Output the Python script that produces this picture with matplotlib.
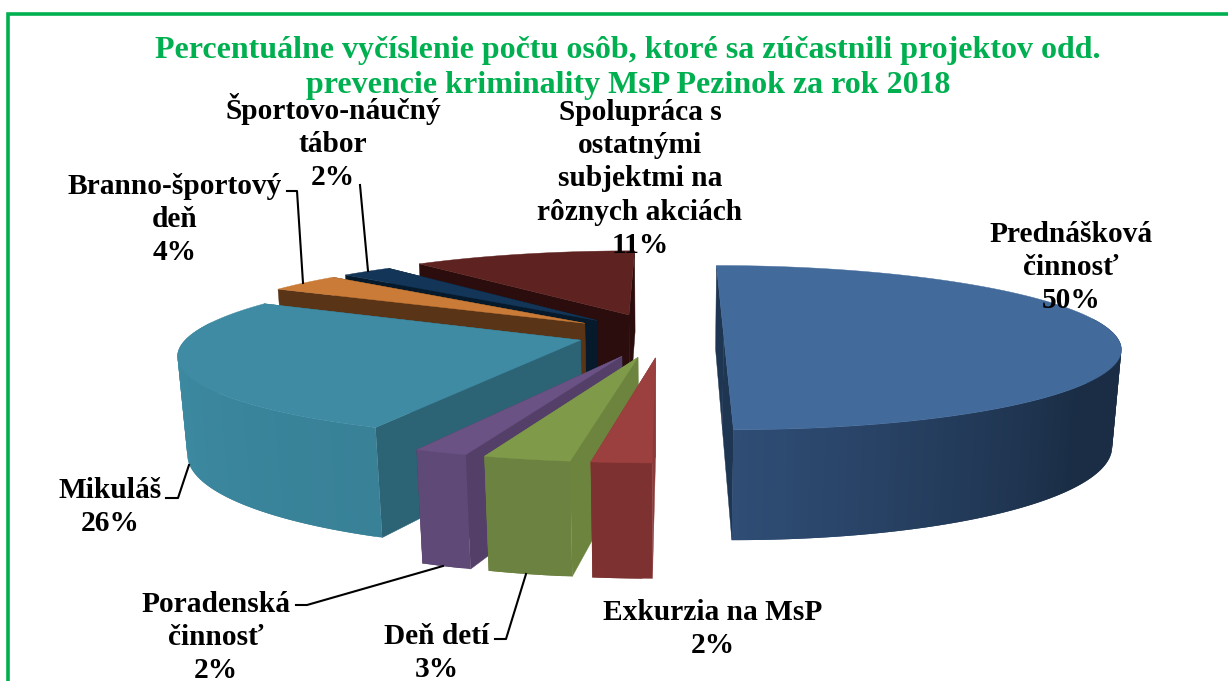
import numpy as np
import matplotlib
matplotlib.use("Agg")
import matplotlib.pyplot as plt
from matplotlib.collections import PolyCollection
from matplotlib.colors import to_rgb

# ---- data ----
categories = ["Prednášková\nčinnosť", "Exkurzia na MsP", "Deň detí", "Poradenská\nčinnosť",
              "Mikuláš", "Branno-športový\ndeň", "Športovo-náučný\ntábor",
              "Spolupráca s\nostatnými\nsubjektmi na\nrôznych akciách"]
values = [50.0, 2.0, 2.9, 1.8, 26.2, 3.6, 2.5, 11.0]
percent_labels = ["50%", "2%", "3%", "2%", "26%", "4%", "2%", "11%"]
title_lines = ["Percentuálne vyčíslenie počtu osôb, ktoré sa zúčastnili projektov odd.",
               "prevencie kriminality MsP Pezinok za rok 2018"]

# ---- styles ----
explode = [0.155, 0.28, 0.28, 0.28, 0.22, 0.25, 0.25, 0.27]
top_colors = ["#426A9B", "#9B403E", "#7F9B4A", "#6A5284", "#3F8BA4", "#C97B37", "#123558", "#5E2320"]
wall_from = ["#1A2D45", "#7D3231", "#6C8240", "#5F4976", "#388197", "#5A3416", "#061A2B", "#2A0D0C"]
wall_to = ["#2F4D75", "#7D3231", "#6C8240", "#5F4976", "#4090A9", "#5A3416", "#061A2B", "#2A0D0C"]
wall_ramp_start = [0.7, 0, 0, 0, 0, 0, 0, 0]
cut_colors = ["#1F3653", "#8A3A38", "#6D843F", "#533F68", "#2C6375", "#593416", "#061A2B", "#2A0D0C"]
draw_order = [7, 6, 5, 4, 3, 2, 1, 0]

START_DEG = 0.2
CX, CY, A, B, K, H, C = 663.0, 334.5, 391.0, 80.0, 0.159, 97.0, 0.02

LINE_PITCH = 33.2
label_pos = [(1071, 242), (713, 620), (437, 644), (216, 611.5), (110, 498), (175, 194), (333, 119), (640, 120)]
leaders = [None, None,
           [(495, 639), (506, 639), (526, 574)],
           [(296, 605), (307, 605), (443, 566)],
           [(166, 498), (178, 498), (189, 465)],
           [(287, 191), (297, 191), (303, 283)],
           [(360, 185), (368, 271)],
           None]


def project(X, Y, z=0.0):
    w = 1 + K * Y + C * z
    return CX + A * X / w, CY + (-B * Y + H * z) / w


fig = plt.figure(figsize=(12.28, 6.81), dpi=100, facecolor="white")
ax = fig.add_axes([0, 0, 1, 1])
ax.set_xlim(0, 1228)
ax.set_ylim(681, 0)
ax.axis("off")

# green frame, cut off by the picture on the right and at the bottom
ax.plot([8, 8, 1240], [690, 13.5, 13.5], color="#00B050", lw=2.6,
        solid_joinstyle="miter", zorder=1)

edges = np.radians(START_DEG) + np.concatenate([[0], np.cumsum(values)]) / sum(values) * 2 * np.pi
zo = 2
for i in draw_order:
    t0, t1 = edges[i], edges[i + 1]
    mid = (t0 + t1) / 2
    ox, oy = explode[i] * np.sin(mid), explode[i] * np.cos(mid)
    th = np.linspace(t0, t1, max(int((t1 - t0) * 60), 4))
    rx, ry = ox + np.sin(th), oy + np.cos(th)

    # cut faces
    for j in (0, -1):
        pts = [project(ox, oy, 0), project(rx[j], ry[j], 0), project(rx[j], ry[j], 1), project(ox, oy, 1)]
        ax.fill(*zip(*pts), color=cut_colors[i], lw=0.3, zorder=zo)
    zo += 1

    # outer wall (front-facing part), back to front; neighbouring strips overlap to hide seams
    quads, cols = [], []
    c0, c1 = np.array(to_rgb(wall_from[i])), np.array(to_rgb(wall_to[i]))
    n = len(th)
    for k in np.argsort(-(ry[:-1] + ry[1:])):
        if np.cos(th[k]) > 0.2 and np.cos(th[k + 1]) > 0.2:
            continue
        e = min(k + 2, n - 1)
        quads.append([project(rx[k], ry[k], 0), project(rx[k + 1], ry[k + 1], 0), project(rx[e], ry[e], 0),
                      project(rx[e], ry[e], 1), project(rx[k + 1], ry[k + 1], 1), project(rx[k], ry[k], 1)])
        s = wall_ramp_start[i]
        f = np.clip((k / max(n - 2, 1) - s) / (1 - s), 0, 1)
        cols.append(tuple(c0 + (c1 - c0) * f))
    if quads:
        ax.add_collection(PolyCollection(quads, facecolors=cols, edgecolors="none", zorder=zo))
    zo += 1

    # top face
    pts = [project(ox, oy)] + [project(a, b) for a, b in zip(rx, ry)]
    ax.fill(*zip(*pts), color=top_colors[i], lw=0.3, zorder=zo)
    zo += 1

serif = "Liberation Serif"
for n, line in enumerate(title_lines):
    ax.text(628, 58 + 35.5 * n, line, ha="center", va="baseline", color="#00B050", family=serif,
            weight="bold", fontsize=23.0, zorder=60)
for i, name in enumerate(categories):
    if leaders[i]:
        ax.plot(*zip(*leaders[i]), color="black", lw=1.5, zorder=50)
    x0, y0 = label_pos[i]
    for n, line in enumerate(name.split("\n") + [percent_labels[i]]):
        ax.text(x0, y0 + n * LINE_PITCH, line, ha="center", va="baseline", family=serif,
                weight="bold", fontsize=21.2, color="black", zorder=60)

fig.savefig("out.png", dpi=100, facecolor="white")
